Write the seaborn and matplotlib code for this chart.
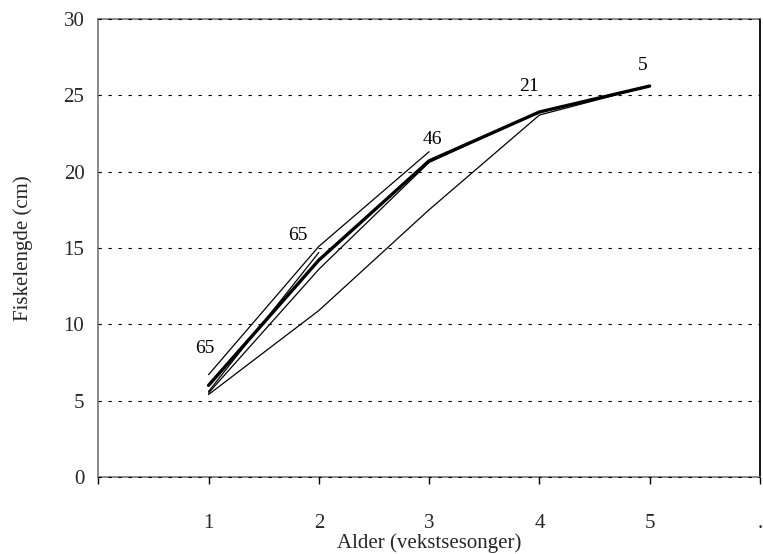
import matplotlib
matplotlib.use("Agg")
import matplotlib.pyplot as plt
import seaborn as sns
import pandas as pd

# ---- data ----
ages = [1, 2, 3, 4, 5]
x_labels = ["1", "2", "3", "4", "5", "."]
mean_length = [6.0, 14.2, 20.7, 23.9, 25.6]
cohort_age5 = [5.4, 10.9, 17.5, 23.7, 25.6]
cohort_age4 = [5.5, 13.6, 20.6, 23.9]
cohort_age3 = [6.7, 15.1, 21.3]
cohort_age2 = [5.6, 14.7]
counts = ["65", "65", "46", "21", "5"]

sns.set_theme(style="white")
plt.rcParams["font.family"] = ["Liberation Serif", "DejaVu Serif"]

fig = plt.figure(figsize=(7.63, 5.54), dpi=100)
ax = fig.add_axes([0.1288, 0.139, 0.996 - 0.1288, 0.966 - 0.139])

thin = [cohort_age5, cohort_age4, cohort_age3, cohort_age2]
for vals in thin:
    df = pd.DataFrame({"age": ages[:len(vals)], "len": vals})
    sns.lineplot(data=df, x="age", y="len", ax=ax, color="black",
                 linewidth=0.9, estimator=None, sort=False)
dfm = pd.DataFrame({"age": ages, "len": mean_length})
sns.lineplot(data=dfm, x="age", y="len", ax=ax, color="black",
             linewidth=2.4, estimator=None, sort=False)

# count labels (offsets in pixels)
maxv = [max(v[i] for v in thin + [mean_length] if len(v) > i) for i in range(5)]
offsets = [(-4, 26), (-21, 11), (3, 12), (-10, 25), (-7, 21)]
for i, c in enumerate(counts):
    ax.annotate(c, xy=(ages[i], maxv[i]), xytext=offsets[i], textcoords="offset pixels",
                ha="center", va="center", fontsize=14, color="black")

ax.set_xlim(0, 6)
ax.set_ylim(0, 30)
ax.set_yticks(range(0, 31, 5))
ax.set_xticks(range(0, 7))
ax.set_xticklabels([""] + x_labels)

for y in range(0, 31, 5):
    ax.axhline(y, color="black", linewidth=0.8, linestyle=(0, (3, 6)), zorder=3,
               clip_on=False)

for s in ["left", "top", "bottom"]:
    ax.spines[s].set_color("#808080")
    ax.spines[s].set_linewidth(1.3)
ax.spines["right"].set_color("black")
ax.spines["right"].set_linewidth(1.3)

ax.tick_params(axis="x", direction="out", length=5, width=1, color="black",
               pad=22, labelsize=15)
ax.tick_params(axis="y", length=0, pad=10, labelsize=15)
ax.xaxis.set_ticks_position("bottom")

ax.set_xlabel("Alder (vekstsesonger)", fontsize=15, labelpad=0)
ax.set_ylabel("Fiskelengde (cm)", fontsize=15, labelpad=22)

fig.savefig("out.png", dpi=100)
